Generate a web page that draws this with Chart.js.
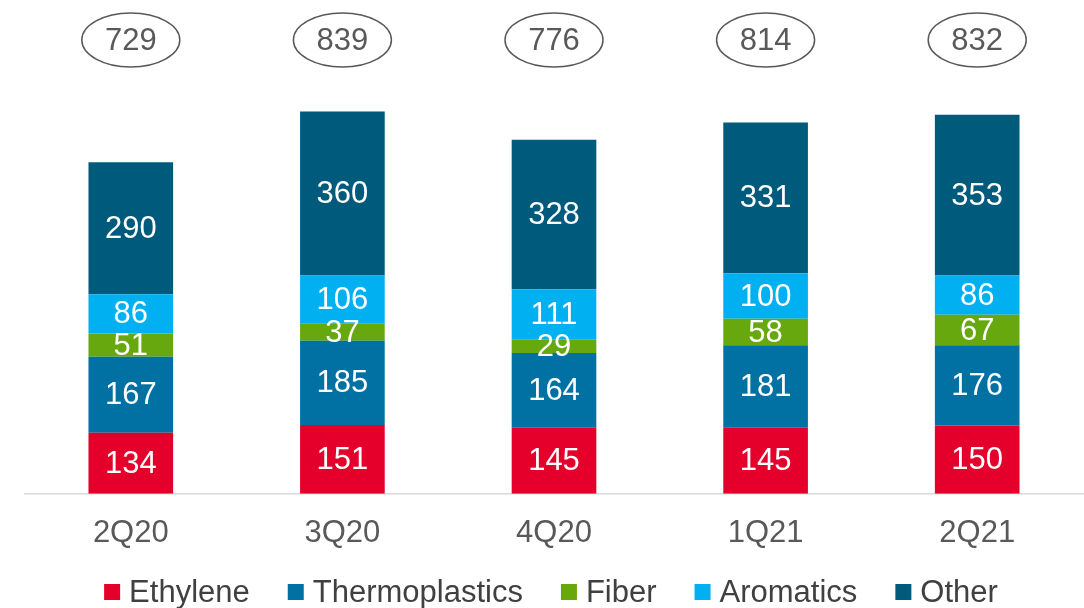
<!DOCTYPE html>
<html>
<head>
<meta charset="utf-8">
<script src="https://cdn.jsdelivr.net/npm/chart.js@4/dist/chart.umd.min.js"></script>
<style>
  html, body { margin: 0; padding: 0; background: #ffffff; }
  #wrap { width: 1084px; height: 608px; position: relative; }
</style>
</head>
<body>
<div id="wrap"><canvas id="chart"></canvas></div>
<script>
// Quarterly volumes by segment
const quarters = ['2Q20', '3Q20', '4Q20', '1Q21', '2Q21'];
const ethylene = [134, 151, 145, 145, 150];
const thermoplastics = [167, 185, 164, 181, 176];
const fiber = [51, 37, 29, 58, 67];
const aromatics = [86, 106, 111, 100, 86];
const other = [290, 360, 328, 331, 353];
const totals = [729, 839, 776, 814, 832];

const FONT = '"Liberation Sans", Arial, sans-serif';

// White value labels centred inside each stacked segment
const segmentLabels = {
  id: 'segmentLabels',
  afterDatasetsDraw(chart) {
    const ctx = chart.ctx;
    ctx.save();
    ctx.font = '31px ' + FONT;
    ctx.fillStyle = '#ffffff';
    ctx.textAlign = 'center';
    ctx.textBaseline = 'middle';
    chart.data.datasets.forEach((ds, di) => {
      const meta = chart.getDatasetMeta(di);
      meta.data.forEach((bar, i) => {
        const y = (bar.y + bar.base) / 2;
        ctx.fillText(String(ds.data[i]), bar.x, y + 1);
      });
    });
    ctx.restore();
  }
};

// Totals shown in outlined ellipses above each column
const totalBadges = {
  id: 'totalBadges',
  afterDraw(chart) {
    const ctx = chart.ctx;
    const meta = chart.getDatasetMeta(0);
    ctx.save();
    ctx.font = '31px ' + FONT;
    ctx.textAlign = 'center';
    ctx.textBaseline = 'middle';
    meta.data.forEach((bar, i) => {
      const cx = bar.x, cy = 40;
      ctx.beginPath();
      ctx.ellipse(cx, cy, 49, 27, 0, 0, Math.PI * 2);
      ctx.lineWidth = 1.5;
      ctx.strokeStyle = '#595959';
      ctx.stroke();
      ctx.fillStyle = '#595959';
      ctx.fillText(String(totals[i]), cx, cy + 1);
    });
    ctx.restore();
  }
};

// Compact single-row legend along the bottom edge
const bottomLegend = {
  id: 'bottomLegend',
  afterDraw(chart) {
    const ctx = chart.ctx;
    const box = 16, gap = 9, spacing = 38, cy = 592;
    ctx.save();
    ctx.font = '31px ' + FONT;
    ctx.textBaseline = 'middle';
    ctx.textAlign = 'left';
    const items = chart.data.datasets.map(ds => ({
      text: ds.label, color: ds.backgroundColor, w: ctx.measureText(ds.label).width
    }));
    const total = items.reduce((s, it) => s + box + gap + it.w, 0) + spacing * (items.length - 1);
    const area = chart.chartArea;
    let x = (area.left + area.right) / 2 - 3 - total / 2;
    items.forEach(it => {
      ctx.fillStyle = it.color;
      ctx.fillRect(x, cy - box / 2, box, box);
      ctx.fillStyle = '#404040';
      ctx.fillText(it.text, x + box + gap, cy + 1);
      x += box + gap + it.w + spacing;
    });
    ctx.restore();
  }
};

const seg = (label, data, color) => ({
  label, data,
  backgroundColor: color,
  borderWidth: 0,
  barPercentage: 0.4,
  categoryPercentage: 1.0
});

new Chart(document.getElementById('chart'), {
  type: 'bar',
  data: {
    labels: quarters,
    datasets: [
      seg('Ethylene', ethylene, '#e4002b'),
      seg('Thermoplastics', thermoplastics, '#0071a2'),
      seg('Fiber', fiber, '#67a80f'),
      seg('Aromatics', aromatics, '#00b0f0'),
      seg('Other', other, '#005a7c')
    ]
  },
  options: {
    responsive: true,
    maintainAspectRatio: false,
    animation: false,
    layout: { padding: { top: 20, left: 25, right: 1, bottom: 35 } },
    scales: {
      x: {
        stacked: true,
        grid: { display: false, drawTicks: false },
        border: { display: true, color: '#d9d9d9', width: 1.5 },
        ticks: { color: '#595959', font: { family: FONT, size: 31 }, padding: 21 }
      },
      y: {
        stacked: true,
        display: false,
        min: 0,
        max: 1040
      }
    },
    plugins: {
      legend: { display: false },
      tooltip: { enabled: false }
    }
  },
  plugins: [segmentLabels, totalBadges, bottomLegend]
});
</script>
</body>
</html>
